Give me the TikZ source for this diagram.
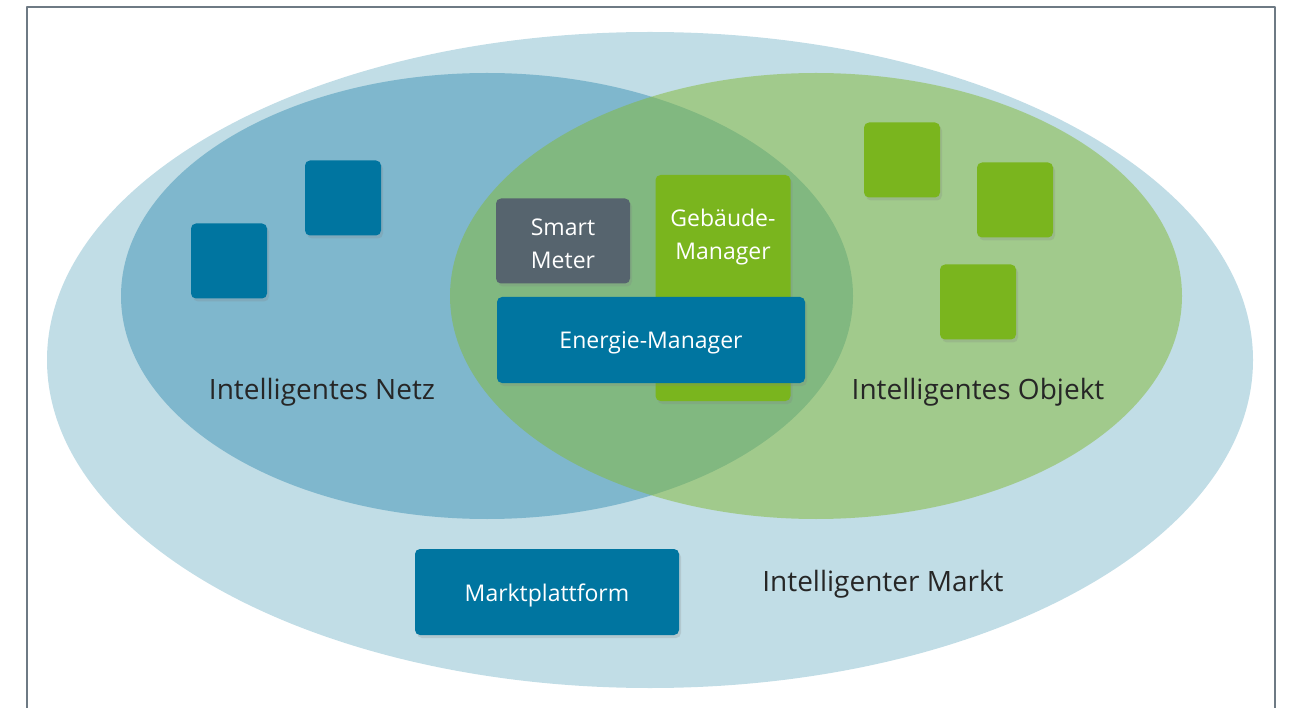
\documentclass[tikz,border=0pt]{standalone}
\usepackage{fontspec}
\setmainfont{Open Sans}
\usetikzlibrary{shadows}
\definecolor{marktblue}{RGB}{193,221,230}
\definecolor{netzblue}{RGB}{127,183,205}
\definecolor{objgreen}{RGB}{131,185,52}
\definecolor{boxblue}{RGB}{0,117,160}
\definecolor{boxgreen}{RGB}{122,181,30}
\definecolor{boxgray}{RGB}{86,100,110}
\definecolor{framegray}{RGB}{110,122,132}
\definecolor{labeltext}{RGB}{38,38,38}

\begin{document}
\begin{tikzpicture}[x=1pt,y=-1pt,line cap=round,line join=round,
  tile/.style={rounded corners=5pt,inner sep=0pt,
    drop shadow={shadow xshift=2pt,shadow yshift=-3pt,opacity=.22}},
  square/.style={tile,minimum width=76pt,minimum height=75pt},
  boxtext/.style={text=white,font=\fontsize{23}{33}\selectfont,align=center},
  setlabel/.style={text=labeltext,font=\fontsize{28}{32}\selectfont}]
\useasboundingbox (0,0) rectangle (1290,708);
% frame, open at the bottom
\draw[framegray,line width=2pt,line cap=butt] (27,708) -- (27,7) -- (1275,7) -- (1275,708);
% the three sets
\fill[marktblue] (650,360) ellipse [x radius=603pt,y radius=328pt];
\fill[netzblue] (487,296) ellipse [x radius=366pt,y radius=223pt];
\fill[objgreen,fill opacity=.5] (816,296) ellipse [x radius=366pt,y radius=223pt];
\node[setlabel] (netz) at (322,392) {Intelligentes Netz};
\node[setlabel] (objekt) at (978,392) {Intelligentes Objekt};
\node[setlabel] (markt) at (883,584) {Intelligenter Markt};
% small squares
\node[square,fill=boxblue] (netzA) at (229,261) {};
\node[square,fill=boxblue] (netzB) at (343,198) {};
\node[square,fill=boxgreen] (objA) at (902,160) {};
\node[square,fill=boxgreen] (objB) at (1015,200) {};
\node[square,fill=boxgreen] (objC) at (978,302) {};
% boxes
\node[tile,fill=boxgray,minimum width=134pt,minimum height=85pt] (meter) at (563,241) {};
\node[boxtext] (metertext) at (563,244) {Smart\\Meter};
\node[tile,fill=boxgreen,minimum width=135pt,minimum height=226pt,
  label={[boxtext,anchor=north,yshift=-31pt]north:Gebäude-\\Manager}] (gebaeude) at (723,288) {};
\node[tile,fill=boxblue,minimum width=308pt,minimum height=86pt] (energie) at (651,340) {};
\node[boxtext] (energietext) at (651,343) {Energie-Manager};
\node[tile,fill=boxblue,minimum width=264pt,minimum height=86pt] (plattform) at (547,592) {};
\node[boxtext] (plattformtext) at (547,595) {Marktplattform};
\end{tikzpicture}
\end{document}
